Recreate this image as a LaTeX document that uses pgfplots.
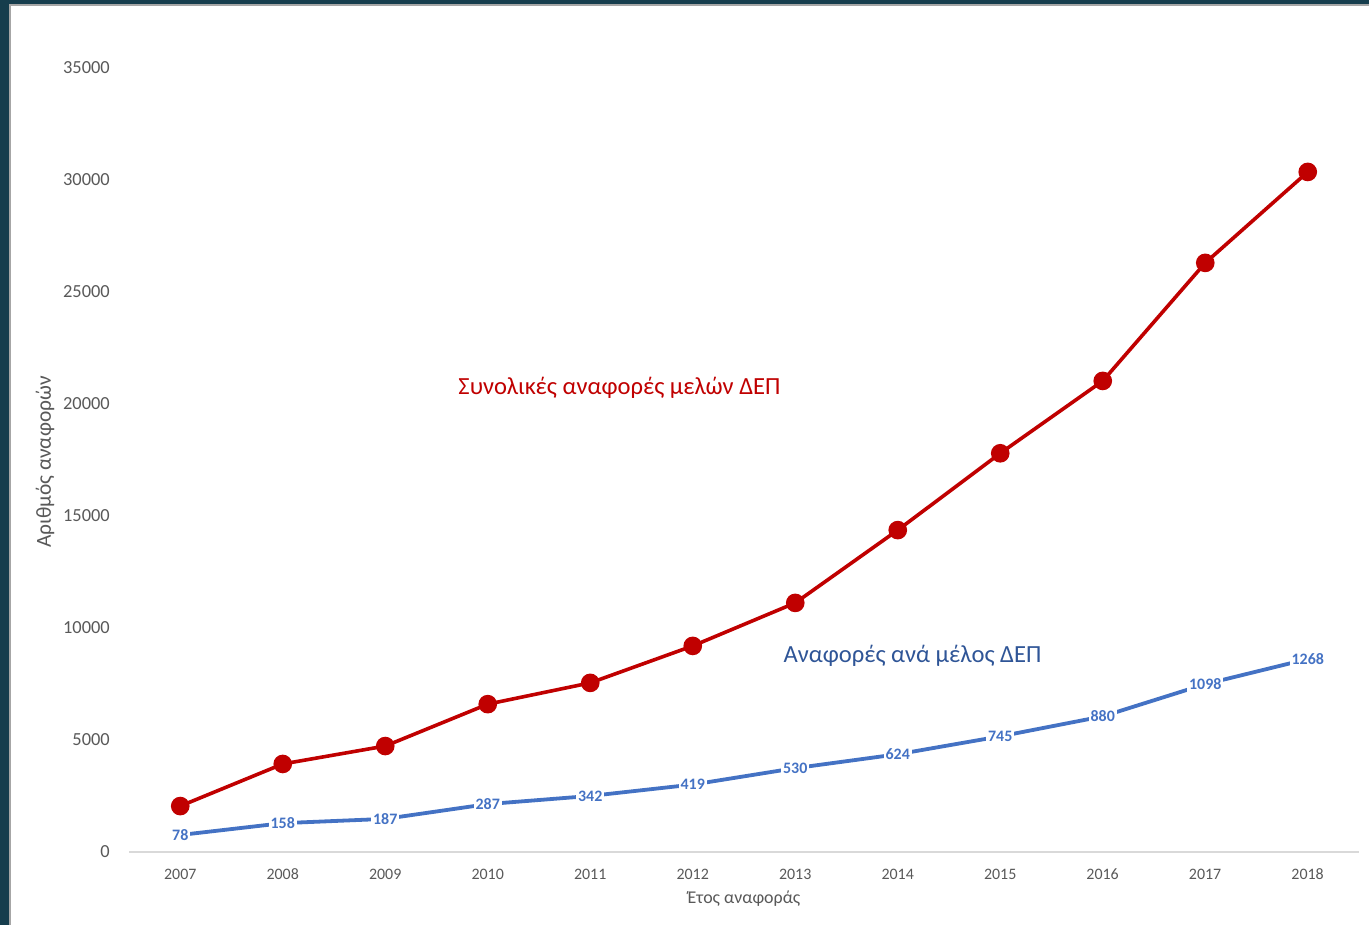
\documentclass[border=0pt]{standalone}
\usepackage{pgfplots}
\pgfplotsset{compat=1.18}
\usepackage{fontspec}
\setmainfont{Carlito}

\definecolor{bgteal}{HTML}{163D4D}
\definecolor{redline}{HTML}{C00000}
\definecolor{blueline}{HTML}{4472C4}
\definecolor{bluetext}{HTML}{2F5597}
\definecolor{txtgray}{HTML}{595959}
\definecolor{axgray}{HTML}{D9D9D9}

\begin{document}
\begin{tikzpicture}
  \useasboundingbox (0bp,0bp) rectangle (1369bp,925bp);
  % background frame
  \fill[bgteal] (0bp,0bp) rectangle (1369bp,925bp);
  \fill[white, draw=gray!70, line width=1.5bp] (10bp,-2bp) rectangle (1371bp,920bp);

  % total citations
  \begin{axis}[
      at={(129bp,73bp)}, anchor=south west,
      scale only axis, width=1230bp, height=784bp,
      xmin=2006.5, xmax=2018.5,
      ymin=0, ymax=35000,
      xtick={2007,...,2018},
      ytick={0,5000,...,35000},
      axis x line*=bottom, axis y line*=left,
      y axis line style={draw=none},
      x axis line style={draw=axgray, line width=2bp},
      major tick length=0pt,
      /pgf/number format/assume math mode=true,
      /pgf/number format/1000 sep={},
      scaled y ticks=false,
      xticklabel style={font=\fontsize{16}{19}\selectfont, text=txtgray, inner sep=0pt, anchor=base, yshift=-27.5bp},
      yticklabel style={font=\fontsize{18.5}{22}\selectfont, text=txtgray, inner sep=0pt, anchor=east, xshift=-19bp},
      clip=false,
    ]
    \addplot[redline, line width=3.6bp, mark=*, mark size=7.5bp, mark options={fill=redline, draw=redline}]
      coordinates {
        (2007,2050) (2008,3930) (2009,4730) (2010,6600) (2011,7550) (2012,9200)
        (2013,11120) (2014,14370) (2015,17800) (2016,21030) (2017,26300) (2018,30360)
      };
  \end{axis}

  % citations per member (secondary, hidden axis)
  \begin{axis}[
      at={(129bp,73bp)}, anchor=south west,
      scale only axis, width=1230bp, height=784bp,
      xmin=2006.5, xmax=2018.5,
      ymin=-37, ymax=5264,
      axis lines=none,
      clip=false,
      nodes near coords,
      nodes near coords align={center},
      every node near coord/.append style={
        font=\bfseries\fontsize{16}{19}\selectfont, text=blueline,
        fill=white, inner sep=2bp, anchor=center,
        /pgf/number format/assume math mode=true,
        /pgf/number format/fixed, /pgf/number format/precision=0,
        /pgf/number format/1000 sep={}},
    ]
    \addplot[blueline, line width=3.8bp, mark=none]
      coordinates {
        (2007,78) (2008,158) (2009,187) (2010,287) (2011,342) (2012,419)
        (2013,530) (2014,624) (2015,745) (2016,880) (2017,1098) (2018,1268)
      };
  \end{axis}

  % axis titles
  \node[rotate=90, text=txtgray, font=\fontsize{21.5}{25}\selectfont] at (45bp,463bp) {Αριθμός αναφορών};
  \node[text=txtgray, font=\fontsize{18}{21}\selectfont] at (744bp,26bp) {Έτος αναφοράς};

  % series annotations
  \node[text=redline, font=\fontsize{24.7}{29}\selectfont] at (619.5bp,537bp) {Συνολικές αναφορές μελών ΔΕΠ};
  \node[text=bluetext, font=\fontsize{24.7}{29}\selectfont] at (912.5bp,269bp) {Αναφορές ανά μέλος ΔΕΠ};
\end{tikzpicture}
\end{document}
